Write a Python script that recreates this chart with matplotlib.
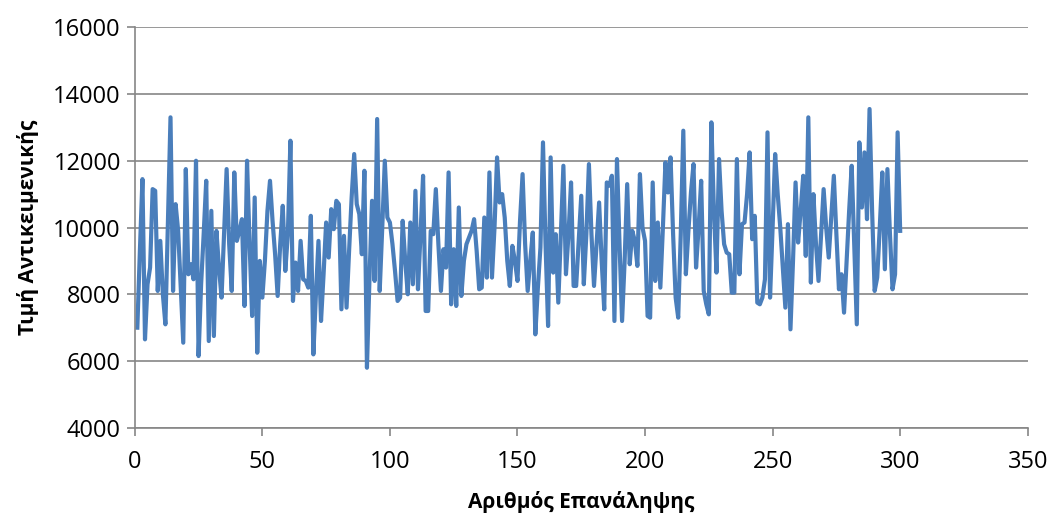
import matplotlib
matplotlib.use("Agg")
import matplotlib.pyplot as plt
import numpy as np

# objective value per iteration
values = [
    7000, 9300, 11450, 6650, 8300, 8800, 11150, 11100, 8100, 9600,
    8000, 7100, 10200, 13300, 8100, 10700, 9900, 8200, 6550, 11750,
    8600, 8900, 8450, 12000, 6150, 8300, 9800, 11400, 6600, 10500,
    6750, 9900, 8800, 7900, 9800, 11750, 9500, 8100, 11650, 9600,
    9900, 10250, 7650, 12000, 9500, 7350, 10900, 6250, 9000, 7900,
    9000, 10500, 11400, 10200, 9200, 7950, 9500, 10650, 8700, 9800,
    12600, 7800, 8950, 8100, 9600, 8450, 8400, 8200, 10350, 6200,
    8000, 9600, 7200, 8600, 10150, 9100, 10550, 9950, 10800, 10700,
    7550, 9750, 7600, 9300, 10900, 12200, 10700, 10400, 9200, 11700,
    5800, 8500, 10800, 8400, 13250, 8100, 10000, 12000, 10300, 10150,
    9500, 8700, 7800, 7900, 10200, 9000, 8000, 10150, 8300, 11100,
    8150, 9800, 11550, 7500, 7500, 9900, 9800, 11150, 9500, 8100,
    9350, 8800, 11650, 7700, 9350, 7650, 10600, 7950, 9000, 9500,
    9700, 9900, 10250, 9300, 8150, 8200, 10300, 8500, 11650, 8500,
    10000, 12100, 10750, 11000, 10300, 9000, 8250, 9450, 9000, 8400,
    10200, 11600, 9500, 8100, 9000, 9850, 6800, 8200, 9400, 12550,
    9500, 7050, 12100, 8650, 9800, 7750, 9800, 11850, 8600, 9800,
    11350, 8250, 8250, 9600, 10950, 8300, 9800, 11900, 9800, 8250,
    9500, 10750, 9000, 7550, 11350, 11250, 11550, 7200, 12050, 9500,
    7200, 9000, 11300, 8900, 9900, 9600, 8850, 11600, 10000, 9600,
    7350, 7300, 11350, 8400, 10150, 8200, 10000, 11950, 11050, 12100,
    9800, 7900, 7300, 9800, 12900, 8600, 9900, 11050, 11900, 8800,
    10000, 11400, 8100, 7700, 7400, 13150, 10500, 8650, 12050, 10500,
    9500, 9250, 9200, 8050, 8050, 12050, 8600, 10100, 10150, 11000,
    12250, 9650, 10350, 7750, 7700, 7900, 8450, 12850, 7900, 10000,
    12200, 11000, 10000, 8800, 7600, 10100, 6950, 9000, 11350, 9550,
    10500, 11550, 9150, 13300, 8350, 11000, 9500, 8400, 9800, 11150,
    10000, 9100, 10300, 11550, 9800, 8150, 8600, 7450, 9000, 10500,
    11850, 9500, 7100, 12550, 10600, 12250, 10250, 13550, 10500, 8100,
    8500, 10000, 11650, 8750, 11750, 9800, 8150, 8600, 12850, 9900,
]
iterations = np.arange(1, len(values) + 1)

x_ticks = [0, 50, 100, 150, 200, 250, 300, 350]
y_ticks = [4000, 6000, 8000, 10000, 12000, 14000, 16000]

plt.rcParams["font.family"] = ["Open Sans", "DejaVu Sans"]

fig = plt.figure(figsize=(10.53, 5.13), dpi=100)
ax = fig.add_axes([0.128, 0.166, 0.848, 0.781])

ax.plot(iterations, values, color="#4A7EBB", lw=3.0, solid_joinstyle="round")

ax.set_xlim(0, 350)
ax.set_ylim(4000, 16000)
ax.set_xticks(x_ticks)
ax.set_yticks(y_ticks)
ax.grid(axis="y", color="#868686", lw=1.2)
ax.set_axisbelow(True)
ax.spines[["top", "right"]].set_visible(False)
for s in ("left", "bottom"):
    ax.spines[s].set_color("#868686")
    ax.spines[s].set_linewidth(1.2)
ax.tick_params(direction="out", length=6, width=1.2, color="#868686",
               labelsize=17)
ax.tick_params(axis="x", pad=10)
ax.tick_params(axis="y", pad=4)

ax.set_xlabel("Αριθμός Επανάληψης", fontsize=15, fontweight="bold", labelpad=12)
ax.set_ylabel("Τιμή Αντικειμενικής", fontsize=15, fontweight="bold", labelpad=10)

fig.savefig("out.png", dpi=100)
